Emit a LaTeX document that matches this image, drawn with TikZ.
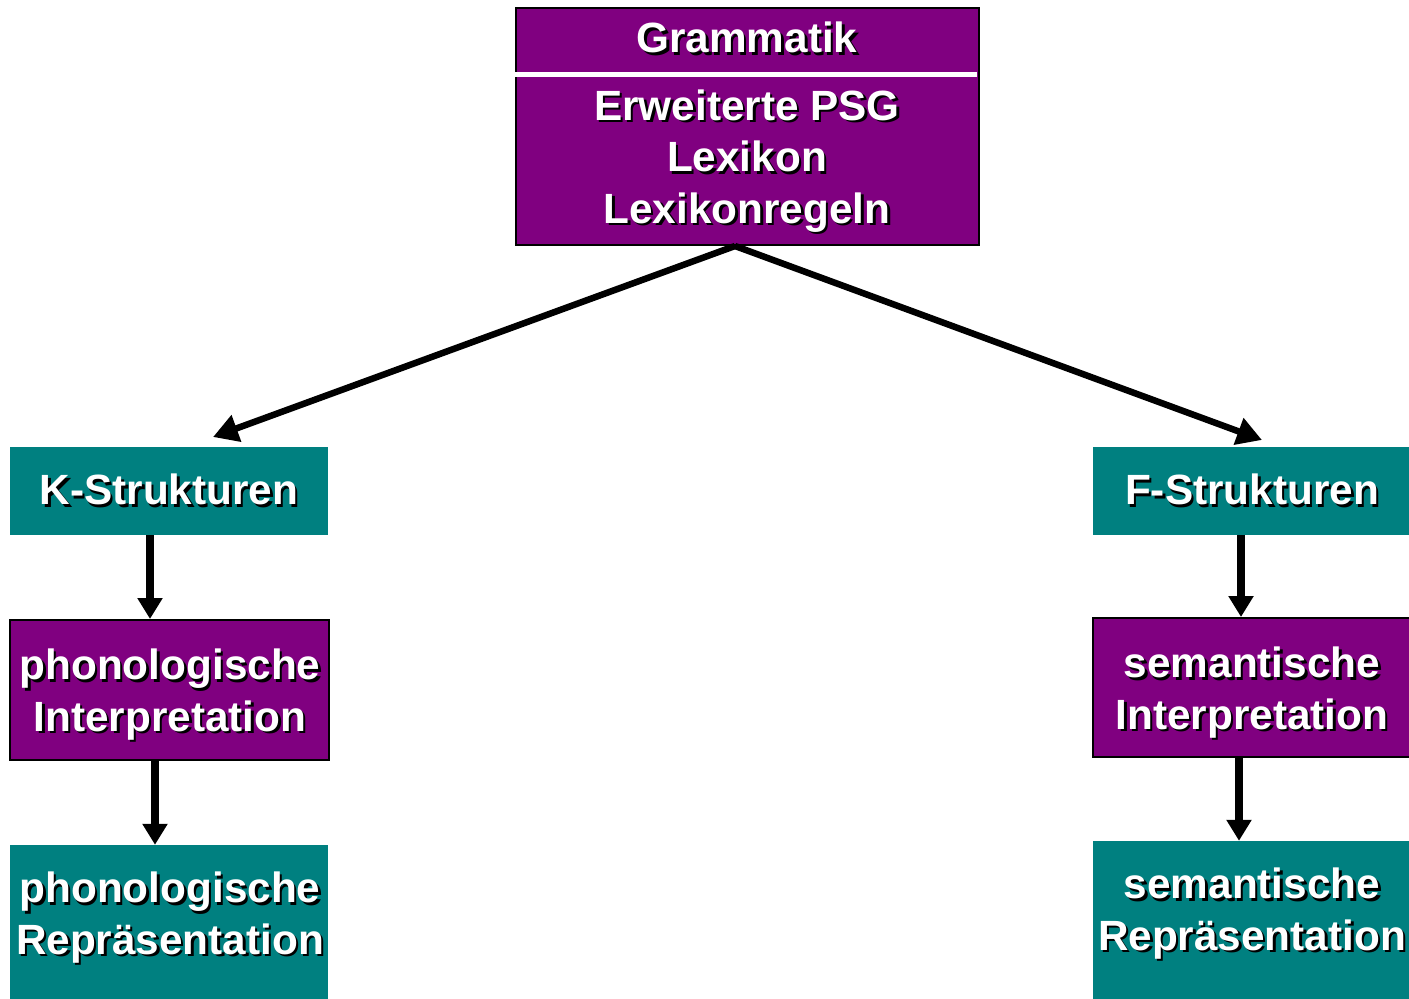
\documentclass[tikz,border=0pt]{standalone}
\usepackage{fontspec}
\setmainfont{Liberation Sans}
\usetikzlibrary{arrows.meta}
\definecolor{lila}{HTML}{800080}
\definecolor{teal2}{HTML}{008080}
\newcommand\shd[1]{\leavevmode\rlap{\kern2.5pt\raisebox{-2.5pt}{\color{black}#1}}#1}
\begin{document}
\begin{tikzpicture}[x=1pt,y=-1pt,
  purplebox/.style={fill=lila,draw=black,line width=2pt,inner sep=0pt},
  tealbox/.style={fill=teal2,draw=none,inner sep=0pt},
  txt/.style={text=white,font=\fontsize{42.3}{51.5}\bfseries\selectfont,align=center,inner sep=0pt},
  arr/.style={line width=6.5pt,-{Triangle[length=25pt,width=27pt]}},
  varr/.style={line width=8pt,-{Triangle[length=21pt,width=24pt]}}]
\useasboundingbox (0,0) rectangle (1409,999);
% boxes
\path[purplebox] (516,8) rectangle (979,245);
\node[inner sep=0pt,minimum width=463pt,minimum height=237pt] (gram) at (747.5,126.5) {};
\draw[white,line width=5pt] (510,74) -- (977,74);
\node[txt] (gramT) at (747,39) {\shd{Grammatik}};
\node[txt] (gramB) at (747,162) {\shd{Erweiterte PSG}\\\shd{Lexikon}\\\shd{Lexikonregeln}};

\node[tealbox,minimum width=318pt,minimum height=88pt] (K) at (169,491) {};
\node[txt] at (169,491) {\shd{K-Strukturen}};
\node[purplebox,minimum width=319pt,minimum height=140pt] (PI) at (169.5,690) {};
\node[txt] at (170,696) {\shd{phonologische}\\\shd{Interpretation}};
\node[tealbox,minimum width=318pt,minimum height=160pt] (PR) at (169,925) {};
\node[txt] at (170,919) {\shd{phonologische}\\\shd{Repräsentation}};

\node[tealbox,minimum width=318pt,minimum height=88pt] (F) at (1252,491) {};
\node[txt] at (1252,491) {\shd{F-Strukturen}};
\node[purplebox,minimum width=320pt,minimum height=139pt] (SI) at (1253,687.5) {};
\node[txt] at (1252,694) {\shd{semantische}\\\shd{Interpretation}};
\node[tealbox,minimum width=318pt,minimum height=160pt] (SR) at (1252,921) {};
\node[txt] at (1252,915) {\shd{semantische}\\\shd{Repräsentation}};

% connectors
\coordinate (apex) at (735,246);
\coordinate (kin) at (213,437);
\coordinate (fin) at (1262,440);
\draw[arr] (apex) -- (kin);
\draw[arr] (apex) -- (fin);
\draw[varr] (K.south -| 150,0) -- (PI.north -| 150,0);
\draw[varr] (PI.south -| 155,0) -- (PR.north -| 155,0);
\draw[varr] (F.south -| 1241,0) -- (SI.north -| 1241,0);
\draw[varr] (SI.south -| 1239,0) -- (SR.north -| 1239,0);
\end{tikzpicture}
\end{document}
